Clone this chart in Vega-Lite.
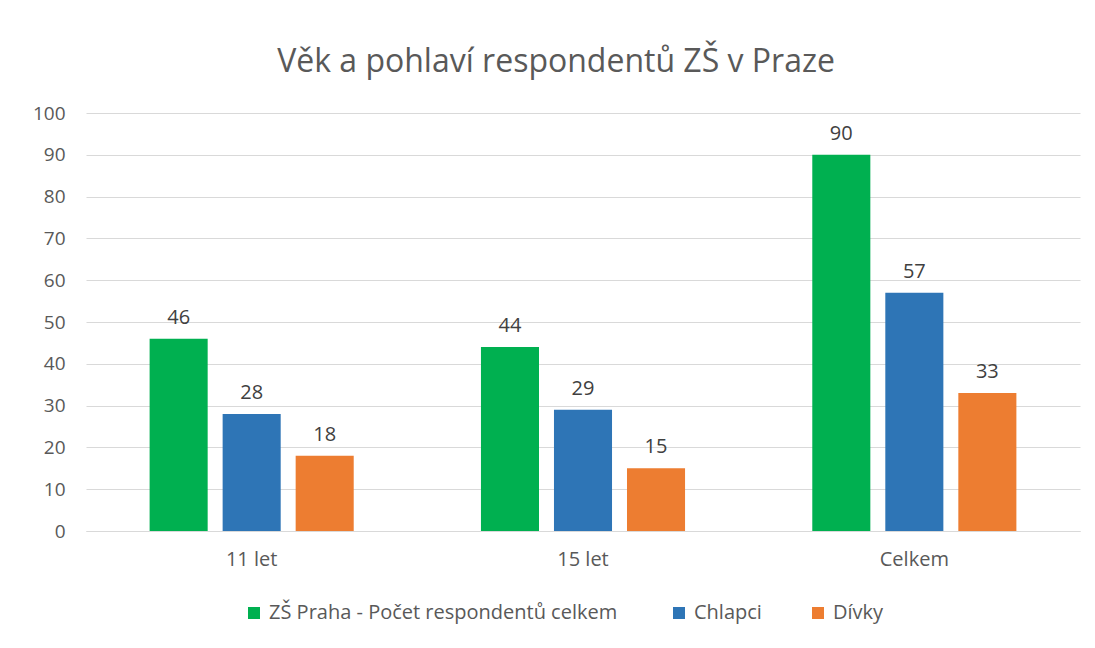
{
  "$schema": "https://vega.github.io/schema/vega-lite/v6.json",
  "width": 994,
  "height": 418,
  "autosize": {"type": "none"},
  "padding": {"left": 86, "top": 113, "right": 15, "bottom": 117},
  "background": "white",
  "config": {"view": {"stroke": null}},
  "title": {
    "text": "Věk a pohlaví respondentů ZŠ v Praze",
    "font": "Open Sans",
    "fontSize": 32,
    "fontWeight": "normal",
    "color": "#595959",
    "anchor": "middle",
    "dx": -27,
    "offset": 25
  },
  "data": {
    "values": [
      {"skupina": "11 let", "serie": "ZŠ Praha - Počet  respondentů celkem", "pocet": 46},
      {"skupina": "11 let", "serie": "Chlapci", "pocet": 28},
      {"skupina": "11 let", "serie": "Dívky", "pocet": 18},
      {"skupina": "15 let", "serie": "ZŠ Praha - Počet  respondentů celkem", "pocet": 44},
      {"skupina": "15 let", "serie": "Chlapci", "pocet": 29},
      {"skupina": "15 let", "serie": "Dívky", "pocet": 15},
      {"skupina": "Celkem", "serie": "ZŠ Praha - Počet  respondentů celkem", "pocet": 90},
      {"skupina": "Celkem", "serie": "Chlapci", "pocet": 57},
      {"skupina": "Celkem", "serie": "Dívky", "pocet": 33}
    ]
  },
  "encoding": {
    "x": {
      "field": "skupina",
      "type": "nominal",
      "sort": ["11 let", "15 let", "Celkem"],
      "scale": {"paddingInner": 0.384, "paddingOuter": 0.192},
      "axis": {
        "title": null,
        "labelAngle": 0,
        "labelFont": "Open Sans",
        "labelFontSize": 20,
        "labelColor": "#595959",
        "labelPadding": 18,
        "ticks": false,
        "domain": true,
        "domainColor": "#D9D9D9",
        "grid": false
      }
    },
    "xOffset": {
      "field": "serie",
      "type": "nominal",
      "sort": ["ZŠ Praha - Počet  respondentů celkem", "Chlapci", "Dívky"],
      "scale": {"paddingInner": 0.205, "paddingOuter": 0}
    },
    "y": {
      "field": "pocet",
      "type": "quantitative",
      "scale": {"domain": [0, 100], "nice": false},
      "axis": {
        "title": null,
        "values": [0, 10, 20, 30, 40, 50, 60, 70, 80, 90, 100],
        "labelFont": "Open Sans",
        "labelFontSize": 19,
        "labelColor": "#595959",
        "labelPadding": 21,
        "ticks": false,
        "domain": false,
        "grid": true,
        "gridColor": "#D9D9D9",
        "gridWidth": 1
      }
    }
  },
  "layer": [
    {
      "mark": {"type": "bar"},
      "encoding": {
        "color": {
          "field": "serie",
          "type": "nominal",
          "sort": ["ZŠ Praha - Počet  respondentů celkem", "Chlapci", "Dívky"],
          "scale": {
            "domain": ["ZŠ Praha - Počet  respondentů celkem", "Chlapci", "Dívky"],
            "range": ["#00B050", "#2E75B6", "#ED7D31"]
          },
          "legend": {
            "title": null,
            "orient": "none",
            "legendX": 158,
            "legendY": 490,
            "direction": "horizontal",
            "symbolType": "square",
            "symbolSize": 144,
            "symbolStrokeWidth": 0,
            "labelFont": "Open Sans",
            "labelFontSize": 20,
            "labelColor": "#595959",
            "columnPadding": 46,
            "labelOffset": 5,
            "labelLimit": 500
          }
        }
      }
    },
    {
      "mark": {"type": "text", "baseline": "bottom", "dy": -11, "font": "Open Sans", "fontSize": 20, "color": "#404040"},
      "encoding": {
        "text": {"field": "pocet", "type": "quantitative"}
      }
    }
  ]
}
